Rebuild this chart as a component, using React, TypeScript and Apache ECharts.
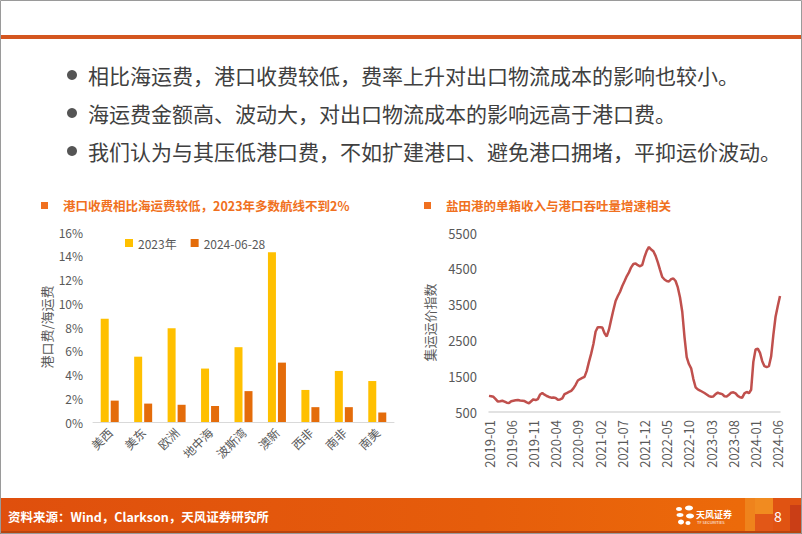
import { useEffect, useRef } from "react";
import * as echarts from "echarts";

// ---------- data ----------
const routes = ["美西", "美东", "欧洲", "地中海", "波斯湾", "澳新", "西非", "南非", "南美"];
const share2023 = [8.7, 5.5, 7.9, 4.5, 6.3, 14.3, 2.7, 4.3, 3.45];
const share20240628 = [1.8, 1.55, 1.45, 1.35, 2.6, 5.0, 1.25, 1.25, 0.8];
const legendNames = ["2023年", "2024-06-28"];

// semi-monthly points, 2019-01 .. 2024-06
const startYear = 2019;
const monthCount = 66;
const periods: string[] = [];
for (let m = 0; m < monthCount; m++) {
  const y = startYear + Math.floor(m / 12);
  const mm = String((m % 12) + 1).padStart(2, "0");
  periods.push(`${y}-${mm}-01`, `${y}-${mm}-16`);
}
const freightIndex = [
  950, 940, 925, 860, 790, 800, 815, 790, 760, 750,
  800, 815, 830, 835, 820, 815, 805, 770, 745, 800,
  855, 830, 860, 990, 1030, 985, 947, 920, 900, 905,
  890, 840, 850, 880, 1000, 1030, 1060, 1090, 1160, 1260,
  1380, 1420, 1450, 1480, 1650, 1900, 2130, 2400, 2750, 2870,
  2870, 2860, 2700, 2610, 2800, 3080, 3350, 3600, 3740, 3860,
  4020, 4150, 4290, 4400, 4540, 4634, 4650, 4600, 4570, 4610,
  4830, 5000, 5110, 5040, 4990, 4860, 4680, 4470, 4270, 4200,
  4160, 4145, 4210, 4230, 4160, 3980, 3700, 3300, 2600, 2030,
  1840, 1720, 1420, 1190, 1130, 1100, 1065, 1030, 990, 945,
  925, 935, 1000, 1040, 1015, 1000, 940, 935, 980, 1040,
  1050, 1020, 950, 910, 900, 1020, 1060, 1025, 1120, 1900,
  2250, 2270, 2150, 1920, 1780, 1755, 1780, 2050, 2650, 3160,
  3460, 3740,
];

const bullets = [
  "相比海运费，港口收费较低，费率上升对出口物流成本的影响也较小。",
  "海运费金额高、波动大，对出口物流成本的影响远高于港口费。",
  "我们认为与其压低港口费，不如扩建港口、避免港口拥堵，平抑运价波动。",
];
const leftTitle = "港口收费相比海运费较低，2023年多数航线不到2%";
const rightTitle = "盐田港的单箱收入与港口吞吐量增速相关";
const sourceText = "资料来源：Wind，Clarkson，天风证券研究所";

const FONT = '"Noto Sans CJK SC", "Noto Sans", sans-serif';
const GRAY = "#595959";

export default function App() {
  const ref = useRef<HTMLDivElement>(null);
  useEffect(() => {
    if (!ref.current) return;
    const chart = echarts.init(ref.current, undefined, { renderer: "svg" });

    const graphics: any[] = [
      // page frame
      { type: "rect", shape: { x: 0.5, y: 0.5, width: 801, height: 533 }, style: { fill: "none", stroke: "#9a9a9a", lineWidth: 1 }, z: 10 },
      // top orange rule
      { type: "rect", shape: { x: 1, y: 35, width: 800, height: 4 }, style: { fill: "#D4561F" } },
      // footer band
      {
        type: "rect",
        shape: { x: 0, y: 498, width: 802, height: 36 },
        style: {
          fill: new echarts.graphic.LinearGradient(0, 0, 1, 0, [
            { offset: 0, color: "#DF4F0D" },
            { offset: 0.6, color: "#E65D0B" },
            { offset: 0.92, color: "#EC6A0A" },
            { offset: 1, color: "#EC6A0A" },
          ]),
        },
      },
      { type: "rect", shape: { x: 0, y: 531, width: 802, height: 3 }, style: { fill: "#B8440E" } },
      { type: "rect", shape: { x: 745, y: 498, width: 10, height: 33 }, style: { fill: "#F08A20", opacity: 0.8 } },
      { type: "rect", shape: { x: 755, y: 498, width: 18, height: 16 }, style: { fill: "#F39A2A", opacity: 0.7 } },
      { type: "rect", shape: { x: 755, y: 514, width: 18, height: 17 }, style: { fill: "#E0531A", opacity: 0.8 } },
      { type: "rect", shape: { x: 773, y: 498, width: 29, height: 33 }, style: { fill: "#DB4A16", opacity: 0.7 } },
      { type: "rect", shape: { x: 790, y: 505, width: 12, height: 26 }, style: { fill: "#C43A18", opacity: 0.8 } },
      {
        type: "text",
        x: 8,
        y: 516,
        style: { text: sourceText, fill: "#ffffff", fontSize: 12.5, fontWeight: "bold", fontFamily: FONT, align: "left", verticalAlign: "middle" },
      },
      // logo
      { type: "ellipse", shape: { cx: 679, cy: 509, rx: 3, ry: 2 }, style: { fill: "#ffffff" } },
      { type: "ellipse", shape: { cx: 689, cy: 508, rx: 4, ry: 2.5 }, style: { fill: "#ffffff" } },
      { type: "ellipse", shape: { cx: 680, cy: 515, rx: 3.5, ry: 2 }, style: { fill: "#ffffff" } },
      { type: "ellipse", shape: { cx: 690, cy: 516, rx: 4, ry: 2.5 }, style: { fill: "#ffffff" } },
      { type: "ellipse", shape: { cx: 681, cy: 522, rx: 3, ry: 2.5 }, style: { fill: "#ffffff" } },
      { type: "ellipse", shape: { cx: 688, cy: 523, rx: 2.5, ry: 2 }, style: { fill: "#ffffff" } },
      { type: "text", x: 696, y: 514, style: { text: "天风证券", fill: "#ffffff", fontSize: 9, fontWeight: "bold", fontFamily: FONT, verticalAlign: "middle" } },
      { type: "text", x: 697, y: 522, style: { text: "TF SECURITIES", fill: "#ffffff", fontSize: 4, fontFamily: FONT, verticalAlign: "middle" } },
      { type: "text", x: 778, y: 516, style: { text: "8", fill: "#ffffff", fontSize: 14, fontFamily: FONT, align: "center", verticalAlign: "middle" } },
      // chart titles
      { type: "rect", shape: { x: 41, y: 202, width: 7, height: 7 }, style: { fill: "#F07020" } },
      { type: "text", x: 63, y: 205.5, style: { text: leftTitle, fill: "#F07020", fontSize: 12.5, fontWeight: "bold", fontFamily: FONT, verticalAlign: "middle" } },
      { type: "rect", shape: { x: 424, y: 202, width: 7, height: 7 }, style: { fill: "#F07020" } },
      { type: "text", x: 446, y: 205.5, style: { text: rightTitle, fill: "#F07020", fontSize: 12.5, fontWeight: "bold", fontFamily: FONT, verticalAlign: "middle" } },
    ];
    const bulletYs = [75, 113, 151];
    bullets.forEach((b, i) => {
      graphics.push({ type: "circle", shape: { cx: 72, cy: bulletYs[i], r: 5 }, style: { fill: "#555555" } });
      graphics.push({
        type: "text",
        x: 88,
        y: bulletYs[i],
        style: { text: b, fill: "#404040", fontSize: 21, fontFamily: FONT, align: "left", verticalAlign: "middle" },
      });
    });

    chart.setOption({
      animation: false,
      backgroundColor: "#ffffff",
      textStyle: { fontFamily: FONT },
      legend: {
        data: legendNames,
        left: 120,
        top: 232,
        itemWidth: 8,
        itemHeight: 8,
        itemGap: 14,
        icon: "rect",
        textStyle: { color: GRAY, fontSize: 12, fontFamily: FONT },
      },
      grid: [
        { left: 93, right: 408, top: 232, bottom: 112, containLabel: false },
        { left: 489, right: 22, top: 233, bottom: 122, containLabel: false },
      ],
      xAxis: [
        {
          gridIndex: 0,
          type: "category",
          data: routes,
          axisTick: { show: false },
          axisLine: { lineStyle: { color: "#D9D9D9", width: 1 } },
          axisLabel: { rotate: 45, interval: 0, color: GRAY, fontSize: 12, margin: 8, fontFamily: FONT },
        },
        {
          gridIndex: 1,
          type: "category",
          data: periods,
          boundaryGap: false,
          axisTick: { show: false },
          axisLine: { lineStyle: { color: "#D9D9D9", width: 1.5 } },
          axisLabel: {
            rotate: 90,
            interval: (i: number) => i % 10 === 0,
            formatter: (v: string) => v.slice(0, 7),
            color: GRAY,
            fontSize: 13,
            margin: 8,
            fontFamily: FONT,
          },
        },
      ],
      yAxis: [
        {
          gridIndex: 0,
          type: "value",
          min: 0,
          max: 16,
          interval: 2,
          splitLine: { show: false },
          axisLine: { show: false },
          axisTick: { show: false },
          axisLabel: { formatter: "{value}%", color: GRAY, fontSize: 12, margin: 10, fontFamily: FONT },
          name: "港口费/海运费",
          nameLocation: "middle",
          nameGap: 40,
          nameTextStyle: { color: GRAY, fontSize: 13, fontFamily: FONT },
        },
        {
          gridIndex: 1,
          type: "value",
          min: 500,
          max: 5500,
          interval: 1000,
          splitLine: { show: false },
          axisLine: { show: false },
          axisTick: { show: false },
          axisLabel: { formatter: (v: number) => String(v), color: GRAY, fontSize: 13, margin: 12, fontFamily: FONT },
          name: "集运运价指数",
          nameLocation: "middle",
          nameGap: 53,
          nameTextStyle: { color: GRAY, fontSize: 13, fontFamily: FONT },
        },
      ],
      series: [
        {
          name: legendNames[0],
          type: "bar",
          xAxisIndex: 0,
          yAxisIndex: 0,
          data: share2023,
          barWidth: 8,
          barGap: "25%",
          itemStyle: { color: "#FFC000" },
        },
        {
          name: legendNames[1],
          type: "bar",
          xAxisIndex: 0,
          yAxisIndex: 0,
          data: share20240628,
          barWidth: 8,
          barGap: "25%",
          itemStyle: { color: "#E46C0A" },
        },
        {
          name: "集运运价指数",
          type: "line",
          xAxisIndex: 1,
          yAxisIndex: 1,
          data: freightIndex,
          symbol: "none",
          lineStyle: { color: "#C0504D", width: 2.5 },
        },
      ],
      graphic: graphics,
    });
    return () => chart.dispose();
  }, []);

  return (
    <div
      ref={ref}
      style={{ position: "fixed", left: 0, top: 0, width: 802, height: 534 }}
    />
  );
}
